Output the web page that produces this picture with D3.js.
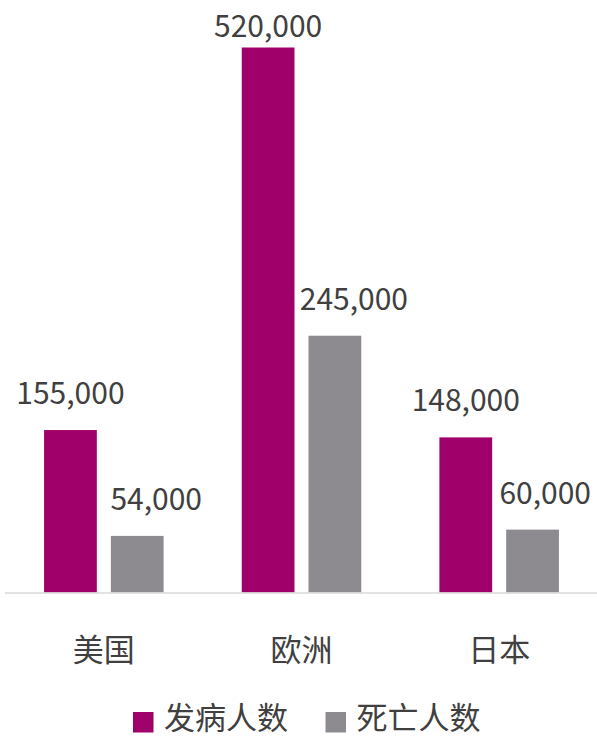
<!DOCTYPE html>
<html>
<head>
<meta charset="utf-8">
<script src="https://cdn.jsdelivr.net/npm/d3@7/dist/d3.min.js"></script>
<style>
  html, body { margin: 0; padding: 0; background: #fff; }
  svg { display: block; font-family: "Noto Sans CJK SC", "Noto Sans", sans-serif; }
</style>
</head>
<body>
<svg id="chart" width="597" height="738"></svg>
<script>
const categories = ["美国", "欧洲", "日本"];
const seriesNames = ["发病人数", "死亡人数"];
const incidence = [155000, 520000, 148000];
const deaths = [54000, 245000, 60000];
const colors = ["#A0006A", "#8E8B90"];

const svg = d3.select("#chart");
const baseY = 592.5;

const x0 = d3.scaleBand().domain(categories).range([5, 598]).paddingInner(0).paddingOuter(0);
const x1 = d3.scaleBand().domain(seriesNames).range([0, x0.bandwidth()]).paddingInner(0.21).paddingOuter(0.585);
const y = d3.scaleLinear().domain([0, 520000]).range([baseY, 47.5]);

const data = categories.map((c, i) => ({
  cat: c,
  vals: [
    { s: seriesNames[0], v: incidence[i], c: colors[0] },
    { s: seriesNames[1], v: deaths[i], c: colors[1] }
  ]
}));

const groups = svg.selectAll("g.grp").data(data).join("g")
  .attr("class", "grp")
  .attr("transform", d => `translate(${x0(d.cat)},0)`);

groups.selectAll("rect").data(d => d.vals).join("rect")
  .attr("x", d => x1(d.s))
  .attr("width", x1.bandwidth())
  .attr("y", d => y(d.v))
  .attr("height", d => baseY - y(d.v))
  .attr("fill", d => d.c);

// axis line
svg.append("line")
  .attr("x1", 5).attr("x2", 597)
  .attr("y1", baseY + 0.5).attr("y2", baseY + 0.5)
  .attr("stroke", "#D9D9D9").attr("stroke-width", 1.5);

// value labels
const fmt = d3.format(",");
data.forEach(d => {
  d.vals.forEach((v, j) => {
    const cx = x0(d.cat) + x1(v.s) + x1.bandwidth() / 2 + (j === 1 ? 19 : 0);
    const by = Math.max(37, y(v.v) - 26);
    const t = svg.append("text")
      .attr("x", cx).attr("y", by)
      .attr("text-anchor", "middle")
      .attr("font-size", 30)
      .attr("fill", "#404040")
      .text(fmt(v.v));
    const len = t.node().getComputedTextLength();
    if (cx + len / 2 > 591) t.attr("x", 591 - len / 2);
  });
});

// category labels
svg.selectAll("text.cat").data(categories).join("text")
  .attr("class", "cat")
  .attr("x", d => x0(d) + x0.bandwidth() / 2)
  .attr("y", 661)
  .attr("text-anchor", "middle")
  .attr("font-size", 31)
  .attr("fill", "#404040")
  .text(d => d);

// legend
const legendItems = [
  { name: seriesNames[0], color: colors[0], x: 133 },
  { name: seriesNames[1], color: colors[1], x: 325.5 }
];
const lg = svg.selectAll("g.lg").data(legendItems).join("g")
  .attr("class", "lg")
  .attr("transform", d => `translate(${d.x},0)`);
lg.append("rect")
  .attr("x", 0).attr("y", 712).attr("width", 20.5).attr("height", 20.5)
  .attr("fill", d => d.color);
lg.append("text")
  .attr("x", 31).attr("y", 729)
  .attr("font-size", 31)
  .attr("fill", "#404040")
  .text(d => d.name);
</script>
</body>
</html>
